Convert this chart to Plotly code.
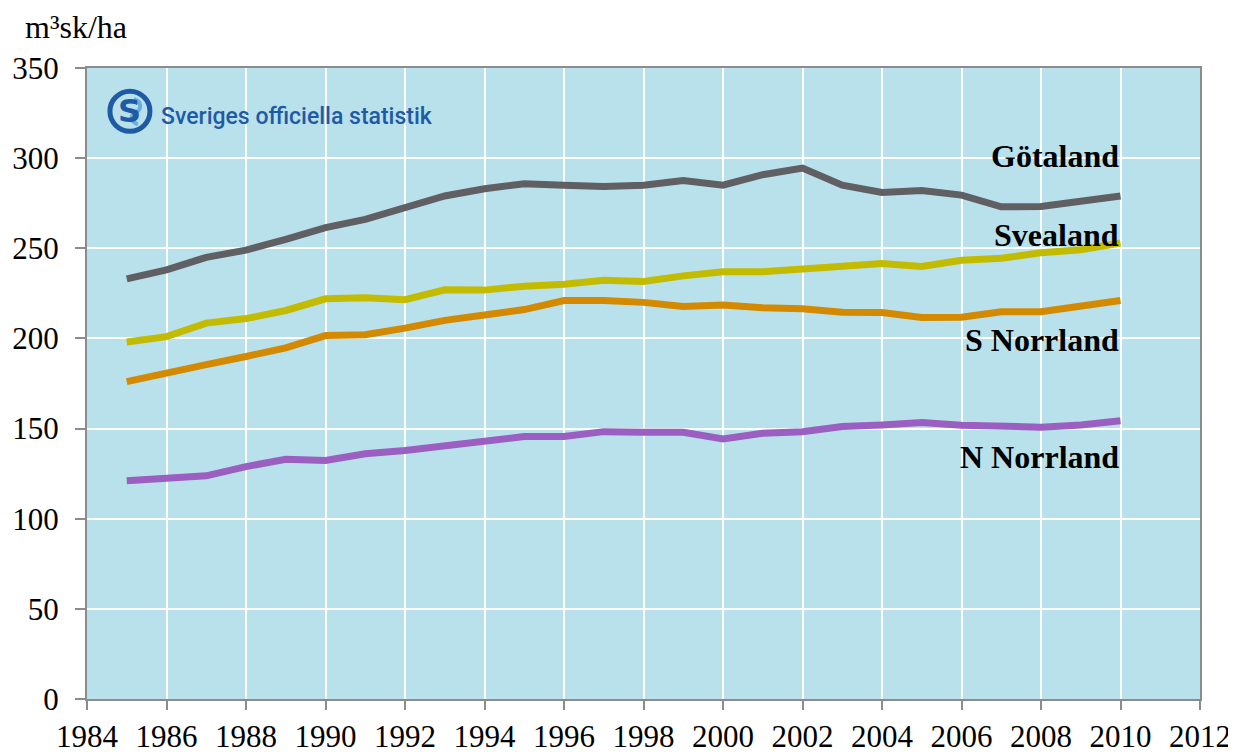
import plotly.graph_objects as go

years = list(range(1985, 2011))
gotaland = [233, 238, 245, 249, 255, 261.5, 266, 273, 279, 283, 285.8, 285, 284.3, 285, 287.6, 285,
            290.8, 294.5, 285, 281, 282, 279.5, 273, 273.2, 276.5, 279]
svealand = [198, 201, 208.5, 211, 215.5, 222, 222.5, 221.5, 227, 226.8, 229, 230, 232.3, 231.6, 234.7, 237,
            237, 238.6, 239.5, 241.5, 239.9, 243.3, 244.5, 247.5, 249.2, 252.9]
s_norrland = [176, 181, 185.5, 190, 194.8, 201.6, 202, 205.7, 210, 213, 216, 221, 221, 220, 217.7, 218.6,
              217, 216.4, 214.5, 214.4, 211.6, 211.8, 214.8, 214.8, 218, 221]
n_norrland = [121, 122.5, 123.8, 128.9, 133, 132.3, 136, 137.8, 140.4, 142.3, 145.6, 145.6, 148.3, 148, 148,
              144.3, 147.4, 148.3, 151.1, 152, 153.3, 151.9, 151.5, 150.8, 152, 154.3]

series = [
    ("Götaland", gotaland, "#5f5f64"),
    ("Svealand", svealand, "#c3bb00"),
    ("S Norrland", s_norrland, "#d38a00"),
    ("N Norrland", n_norrland, "#9b5fc1"),
]
label_y = {"Götaland": 301, "Svealand": 257.5, "S Norrland": 199.2, "N Norrland": 134.3}

fig = go.Figure()
for name, vals, col in series:
    fig.add_trace(go.Scatter(x=years, y=vals, mode="lines", name=name,
                             line=dict(color=col, width=7), showlegend=False))
    fig.add_annotation(x=2010, y=label_y[name], text="<b>%s</b>" % name, showarrow=False,
                       xanchor="right", yanchor="middle", xshift=0,
                       font=dict(family="Liberation Serif", size=32, color="#000000"))

serif = "Liberation Serif"
fig.update_layout(
    width=1236, height=752,
    margin=dict(l=79, r=44, t=60, b=61),
    paper_bgcolor="white", plot_bgcolor="#b9e1eb",
    font=dict(family=serif, size=31, color="#000000"),
    xaxis=dict(range=[1984, 2012], dtick=2, tick0=1984, showgrid=True, gridcolor="white", gridwidth=2,
               showline=True, linecolor="#8c8c8c", linewidth=2, mirror=True, automargin=False,
               ticks="outside", ticklen=9, tickcolor="#8c8c8c", tickwidth=2,
               tickfont=dict(family=serif, size=31), zeroline=False),
    yaxis=dict(range=[0, 350], dtick=50, showgrid=True, gridcolor="white", gridwidth=2,
               showline=True, linecolor="#8c8c8c", linewidth=2, mirror=True, automargin=False,
               ticks="outside", ticklen=10, tickcolor="#8c8c8c", tickwidth=2,
               ticklabelstandoff=10,
               tickfont=dict(family=serif, size=31), zeroline=False),
)

# unit title
fig.add_annotation(xref="paper", yref="paper", x=-0.0575, y=1.0, yshift=41, text="m³sk/ha",
                   showarrow=False, xanchor="left", yanchor="middle",
                   font=dict(family=serif, size=32, color="#000000"))

# SOS logo
fig.add_shape(type="circle", xref="x", yref="y", xsizemode="pixel", ysizemode="pixel",
              xanchor=1985.08, yanchor=326, x0=-20, x1=20, y0=-20, y1=20,
              line=dict(color="#1f5aa6", width=5), fillcolor="rgba(0,0,0,0)")
fig.add_shape(type="path", xref="x", yref="y", xsizemode="pixel", ysizemode="pixel",
              xanchor=1985.08, yanchor=326,
              path="M 4,12 C 12,10 12,2 6,-1 C 0,-4 0,-10 8,-13",
              line=dict(color="#6aaee0", width=4))
fig.add_annotation(x=1985.08, y=326, text="<b>S</b>", showarrow=False, xanchor="center", yanchor="middle",
                   font=dict(family="DejaVu Sans", size=32, color="#1f5aa6"))
fig.add_annotation(x=1985.8, y=323, text="Sveriges officiella statistik", showarrow=False,
                   xanchor="left", yanchor="middle",
                   font=dict(family="Roboto", size=23, color="#1f5aa6", weight=500))

fig.write_html("out.html")
